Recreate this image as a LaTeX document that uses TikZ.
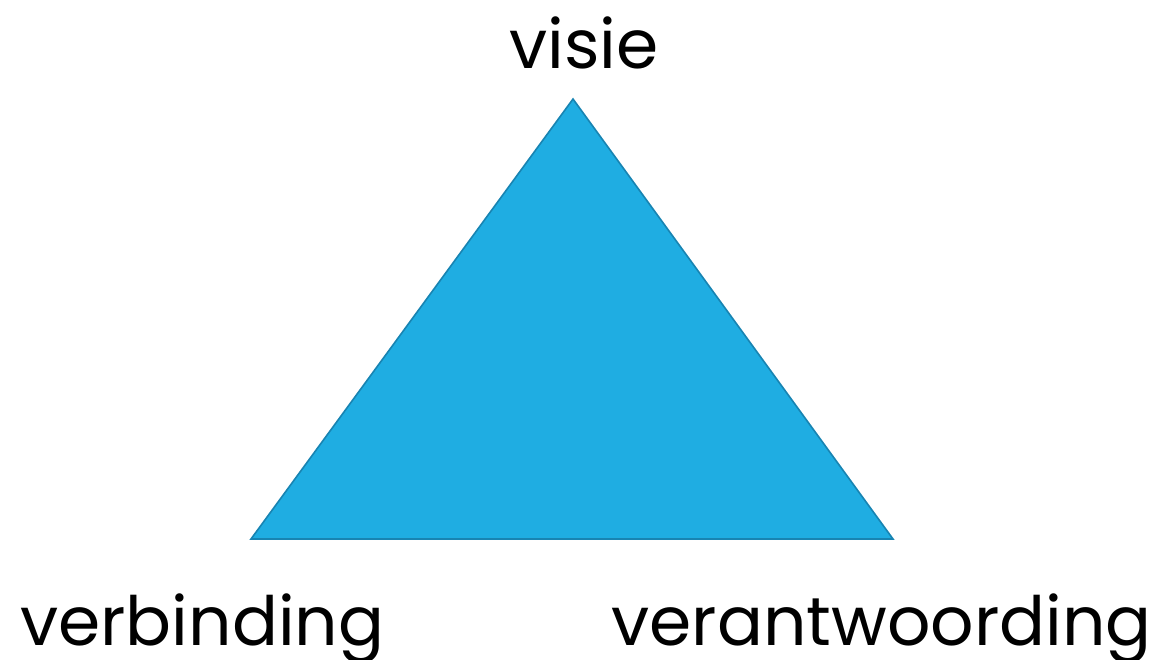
\documentclass[tikz,border=0pt]{standalone}
\usepackage{fontspec}
\setmainfont{Poppins}
\definecolor{trifill}{RGB}{31,173,226}
\definecolor{triline}{RGB}{24,132,178}
\begin{document}
\begin{tikzpicture}[x=1pt,y=-1pt,
  lab/.style={inner sep=0pt,font=\fontsize{68}{74}\selectfont,text=black}]
\useasboundingbox (0,0) rectangle (1164,659);
\coordinate (top) at (573,99);
\coordinate (bl) at (251,539);
\coordinate (br) at (893,539);
\filldraw[fill=trifill,draw=triline,line width=1.6pt,line join=miter] (top) -- (br) -- (bl) -- cycle;
\node[lab,anchor=base] (visie) at (584,68) {visie};
\node[lab,anchor=base west] (verb) at (20,645) {verbinding};
\node[lab,anchor=base east] (verant) at (1152,645) {verantwoording};
\end{tikzpicture}
\end{document}
